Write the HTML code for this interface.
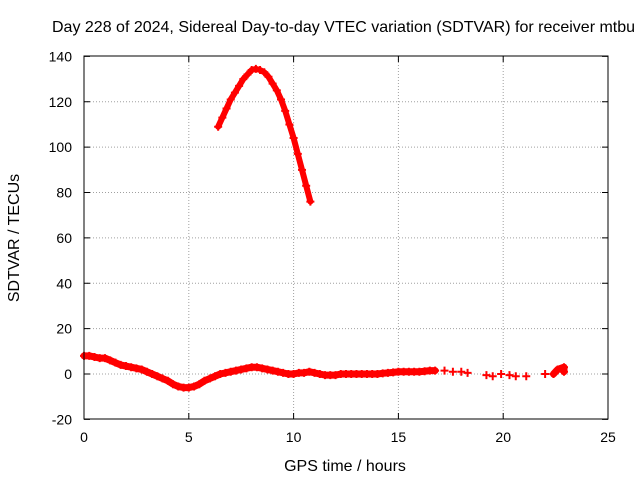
<!DOCTYPE html>
<html><head><meta charset="utf-8"><style>
body{margin:0;background:#fff;}
svg text{font-family:"Liberation Sans",sans-serif;font-size:14px;fill:#000;}
svg text.big{font-size:16px;}
</style></head><body>
<svg id="chart" width="640" height="480" xmlns="http://www.w3.org/2000/svg">
<rect width="640" height="480" fill="#fff"/>
<text class="big" x="52" y="32" text-anchor="start">Day 228 of 2024, Sidereal Day-to-day VTEC variation (SDTVAR) for receiver mtbu</text>
<text class="big" x="345" y="471" text-anchor="middle">GPS time / hours</text>
<text class="big" transform="translate(19,238) rotate(-90)" text-anchor="middle">SDTVAR / TECUs</text>
<g id="grid"></g><g id="ticks"></g><g id="marks"></g>
<rect x="84" y="56" width="524" height="363" fill="none" stroke="#000" stroke-width="1"/>
</svg>
<script>
const xTicks=[0,5,10,15,20,25];
const yTicks=[-20,0,20,40,60,80,100,120,140];
const s1x=[6.4,6.6,6.8,7,7.2,7.4,7.6,7.8,8,8.2,8.4,8.6,8.8,9,9.2,9.4,9.6,9.8,10,10.2,10.4,10.6,10.8];
const s1y=[109,113,117,121,124,127,130,132,134,134.5,134,133,131,128,125,121,116,110,104,97,90,83,76];
const s2x=[0,0.25,0.5,0.75,1,1.25,1.5,1.75,2,2.25,2.5,2.75,3,3.25,3.5,3.75,4,4.25,4.5,4.75,5,5.25,5.5,5.75,6,6.25,6.5,6.75,7,7.25,7.5,7.75,8,8.25,8.5,8.75,9,9.25,9.5,9.75,10,10.25,10.5,10.75,11,11.25,11.5,11.75,12,12.25,12.5,12.75,13,13.25,13.5,13.75,14,14.25,14.5,14.75,15,15.25,15.5,15.75,16,16.25,16.5,16.75,17.2,17.6,18,18.3,19.2,19.5,19.9,20.3,20.6,21.1,22,22.4,22.6,22.9,22.9];
const s2y=[8,8,7.5,7,7,6,5,4,3.5,3,2.5,2,1,0,-1,-2,-3,-4.5,-5.5,-6,-6,-5.5,-4.5,-3,-2,-1,0,0.5,1,1.5,2,2.5,3,3,2.5,2,1.5,1,0.5,0,0,0.5,0.5,1,0.5,0,-0.5,-0.5,-0.5,0,0,0,0,0,0,0,0,0.3,0.5,0.7,1,1,1,1,1,1.2,1.5,1.5,1.5,1,1,0.5,-0.5,-1,0,-0.5,-1,-1,0,0,2,3,1];
const X=v=>84+v*524/25, Y=v=>374-v*363/160;
const NS="http://www.w3.org/2000/svg";
function mk(t,a,p){const e=document.createElementNS(NS,t);for(const k in a)e.setAttribute(k,a[k]);p.appendChild(e);return e;}
const grid=document.getElementById('grid'),ticks=document.getElementById('ticks'),marks=document.getElementById('marks');
xTicks.forEach(v=>{const x=X(v);
 if(v>0&&v<25){const g=mk('line',{x1:x,x2:x,y1:56,y2:419,stroke:'#a0a0a0','stroke-dasharray':'1,2'},grid);
 
 }
 mk('line',{x1:x,x2:x,y1:419,y2:413,stroke:'#000'},ticks);mk('line',{x1:x,x2:x,y1:56,y2:62,stroke:'#000'},ticks);
 const t=mk('text',{x:x,y:442,'text-anchor':'middle'},ticks);t.textContent=v;
 
 });
yTicks.forEach(v=>{const y=Y(v);
 if(v>-20&&v<140){const g=mk('line',{x1:84,x2:608,y1:y,y2:y,stroke:'#a0a0a0','stroke-dasharray':'1,2'},grid);
 
 }
 mk('line',{x1:84,x2:90,y1:y,y2:y,stroke:'#000'},ticks);mk('line',{x1:608,x2:602,y1:y,y2:y,stroke:'#000'},ticks);
 const t=mk('text',{x:72,y:y+5,'text-anchor':'end'},ticks);t.textContent=v;
 
 });
function series(xs,ys,name,w){
 let d='';xs.forEach((v,i)=>{if(i>0&&v-xs[i-1]<=0.3)d+=`M${X(xs[i-1])},${Y(ys[i-1])}L${X(v)},${Y(ys[i])}`;});
 const p=mk('path',{d:d,stroke:'#f00','stroke-width':w,fill:'none','stroke-linecap':'round'},marks);
 
 
 xs.forEach((v,i)=>{const x=X(v),y=Y(ys[i]);
  const m=mk('path',{d:`M${x-4},${y}H${x+4}M${x},${y-4}V${y+4}`,stroke:'#f00','stroke-width':2},marks);
  
  });
}
series(s1x,s1y,'series-high',6);
series(s2x,s2y,'series-low',7);
</script>
</body></html>
